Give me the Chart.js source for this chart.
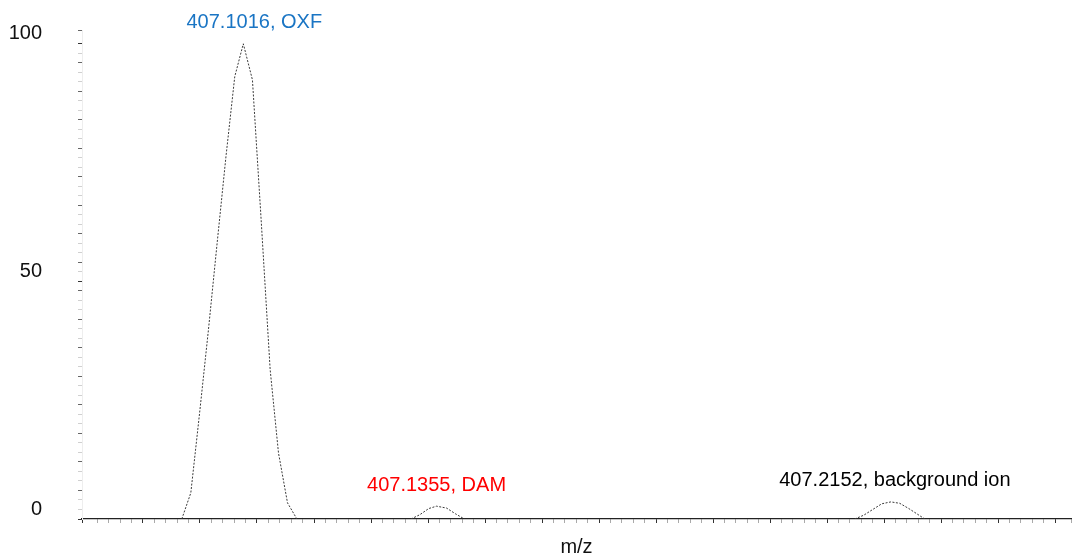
<!DOCTYPE html>
<html lang="en">
<head>
  <meta charset="UTF-8">
  <title>m/z 407 profile</title>
  <style>
    body { margin: 0; background: #fff; }
    #chart { display: block; }
  </style>
  <script src="https://cdn.jsdelivr.net/npm/chart.js"></script>
</head>
<body>
  <canvas id="chart" width="1074" height="559"></canvas>

  <script>
    // profile points, m/z vs relative intensity
    const mzOxf  = [407.09081, 407.09239, 407.09393, 407.09548, 407.09701, 407.09855, 407.10010, 407.1016, 407.10320, 407.10473, 407.10631, 407.10777, 407.10935, 407.11100];
    const intOxf = [0, 5.5, 22.3, 39.8, 58.1, 76.2, 93.1, 100, 92.4, 62.9, 31.4, 13.9, 3.4, 0];

    const mzDam  = [407.13102, 407.13256, 407.13413, 407.1355, 407.13725, 407.13881, 407.14038];
    const intDam = [0, 0.9, 2.2, 2.7, 2.3, 1.1, 0];

    const mzBg   = [407.20886, 407.21044, 407.21202, 407.2136, 407.2152, 407.21676, 407.21834, 407.21975, 407.22115];
    const intBg  = [0, 0.8, 2.0, 3.2, 3.6, 3.3, 2.2, 1.1, 0];

    // peak annotations
    const peakMz    = [407.1016, 407.1355, 407.2152];
    const peakNames = ['OXF', 'DAM', 'background ion'];
    const yLabels   = [0, 50, 100];

    const labelColors = ['#1a75c4', '#ff0000', '#000000'];
    const labelNudge  = [11, 0, 4];   // px, horizontal
    const seriesMz  = [mzOxf, mzDam, mzBg];
    const seriesInt = [intOxf, intDam, intBg];

    const FONT = '"Liberation Sans", Arial, sans-serif';

    const peakLabels = {
      id: 'peakLabels',
      afterDatasetsDraw(chart) {
        const { ctx, scales: { x, y } } = chart;
        ctx.save();
        ctx.font = '20px ' + FONT;
        ctx.textAlign = 'center';
        ctx.textBaseline = 'middle';
        peakMz.forEach((mz, i) => {
          const top = Math.max(...seriesInt[i]);
          ctx.fillStyle = labelColors[i];
          ctx.fillText(`${mz.toFixed(4)}, ${peakNames[i]}`,
            x.getPixelForValue(mz) + labelNudge[i], y.getPixelForValue(top) - 21);
        });
        ctx.restore();
      }
    };

    const isMajor = v => yLabels.some(l => Math.abs(v - l) < 1e-6);

    new Chart(document.getElementById('chart'), {
      type: 'line',
      data: {
        datasets: seriesMz.map((mz, i) => ({
          data: mz.map((m, j) => ({ x: m, y: seriesInt[i][j] })),
          borderColor: '#3a3a3a',
          borderWidth: 1,
          borderDash: [2, 1.5],
          pointRadius: 0,
          fill: false,
          tension: 0
        }))
      },
      options: {
        responsive: false,
        animation: false,
        devicePixelRatio: 1,
        layout: { padding: { left: 8, right: 3, top: 30, bottom: 0 } },
        plugins: {
          legend: { display: false },
          tooltip: { enabled: false }
        },
        scales: {
          x: {
            type: 'linear',
            min: 407.0733,
            max: 407.2468,
            afterFit: s => { s.height = 40; },
            border: { color: '#222', width: 1.2 },
            grid: {
              drawOnChartArea: false,
              tickLength: 4,
              tickColor: c => (c.index % 5 === 0 ? '#333' : '#aaa')
            },
            ticks: { display: false, stepSize: 0.002, maxTicksLimit: 200, autoSkip: false },
            title: {
              display: true,
              text: 'm/z',
              color: '#111',
              font: { family: FONT, size: 20 },
              padding: { top: 14, bottom: 0 }
            }
          },
          y: {
            min: 0,
            max: 102.9,
            // wide label gap, but no extra room above/below the plot
            afterFit: s => { s.width = 74; s.paddingTop = 0; s.paddingBottom = 0; },
            border: { color: '#eeeeee', width: 1 },
            grid: {
              drawOnChartArea: false,
              tickLength: 4,
              tickColor: c => {
                const v = c.tick ? c.tick.value : 0;
                if (isMajor(v)) return '#333';
                return c.index % 3 === 0 ? '#666' : '#d0d0d0';
              }
            },
            ticks: {
              stepSize: 2,
              maxTicksLimit: 200,
              autoSkip: false,
              padding: 36,
              labelOffset: -10,
              color: '#111',
              font: { family: FONT, size: 20 },
              callback: v => (isMajor(v) ? String(Math.round(v)) : '')
            }
          }
        }
      },
      plugins: [peakLabels]
    });
  </script>
</body>
</html>
